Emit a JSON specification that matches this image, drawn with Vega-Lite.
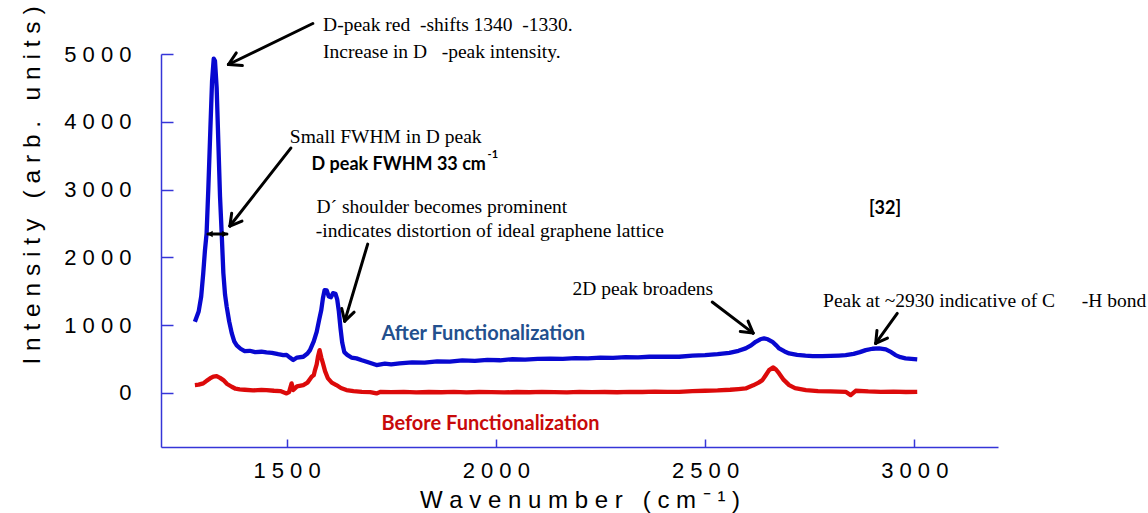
{
  "$schema": "https://vega.github.io/schema/vega-lite/v6.json",
  "width": 837,
  "height": 393,
  "autosize": {"type": "none"},
  "padding": {"left": 161, "top": 54, "right": 150, "bottom": 66},
  "background": "white",
  "config": {
    "view": {"stroke": null},
    "axis": {"grid": false, "domainColor": "#3535d8", "tickColor": "#3535d8", "domainWidth": 1.5, "tickWidth": 1.5, "labelColor": "black", "titleColor": "black", "labelFont": "Liberation Sans", "titleFont": "Liberation Sans", "titleFontWeight": "normal"}
  },
  "datasets": {
    "spectra": [
      {"sample":"After","x":1281,"y":1047},{"sample":"After","x":1290,"y":1200},{"sample":"After","x":1296,"y":1420},{"sample":"After","x":1301,"y":1767},{"sample":"After","x":1305,"y":2100},{"sample":"After","x":1309,"y":2357},{"sample":"After","x":1313,"y":3000},{"sample":"After","x":1318,"y":3900},{"sample":"After","x":1322,"y":4600},{"sample":"After","x":1326,"y":4930},{"sample":"After","x":1329,"y":4900},{"sample":"After","x":1333,"y":4500},{"sample":"After","x":1337,"y":3700},{"sample":"After","x":1341,"y":2900},{"sample":"After","x":1345,"y":2353},{"sample":"After","x":1349,"y":1767},{"sample":"After","x":1353,"y":1450},{"sample":"After","x":1357,"y":1270},{"sample":"After","x":1363,"y":1050},{"sample":"After","x":1369,"y":880},{"sample":"After","x":1375,"y":760},{"sample":"After","x":1381,"y":700},{"sample":"After","x":1390,"y":650},{"sample":"After","x":1400,"y":615},{"sample":"After","x":1412,"y":620},{"sample":"After","x":1425,"y":600},{"sample":"After","x":1440,"y":606},{"sample":"After","x":1452,"y":595},{"sample":"After","x":1465,"y":590},{"sample":"After","x":1480,"y":570},{"sample":"After","x":1492,"y":556},{"sample":"After","x":1500,"y":560},{"sample":"After","x":1508,"y":520},{"sample":"After","x":1516,"y":483},{"sample":"After","x":1525,"y":520},{"sample":"After","x":1540,"y":532},{"sample":"After","x":1550,"y":580},{"sample":"After","x":1556,"y":630},{"sample":"After","x":1565,"y":760},{"sample":"After","x":1572,"y":900},{"sample":"After","x":1578,"y":1080},{"sample":"After","x":1583,"y":1221},{"sample":"After","x":1587,"y":1400},{"sample":"After","x":1591,"y":1516},{"sample":"After","x":1596,"y":1510},{"sample":"After","x":1601,"y":1420},{"sample":"After","x":1606,"y":1410},{"sample":"After","x":1611,"y":1470},{"sample":"After","x":1617,"y":1460},{"sample":"After","x":1621,"y":1380},{"sample":"After","x":1625,"y":1200},{"sample":"After","x":1629,"y":950},{"sample":"After","x":1633,"y":740},{"sample":"After","x":1638,"y":600},{"sample":"After","x":1645,"y":560},{"sample":"After","x":1655,"y":520},{"sample":"After","x":1667,"y":508},{"sample":"After","x":1680,"y":480},{"sample":"After","x":1695,"y":450},{"sample":"After","x":1715,"y":409},{"sample":"After","x":1735,"y":430},{"sample":"After","x":1750,"y":420},{"sample":"After","x":1770,"y":434},{"sample":"After","x":1800,"y":450},{"sample":"After","x":1830,"y":445},{"sample":"After","x":1860,"y":465},{"sample":"After","x":1890,"y":460},{"sample":"After","x":1920,"y":478},{"sample":"After","x":1950,"y":470},{"sample":"After","x":1980,"y":485},{"sample":"After","x":2010,"y":480},{"sample":"After","x":2040,"y":495},{"sample":"After","x":2070,"y":490},{"sample":"After","x":2100,"y":500},{"sample":"After","x":2130,"y":505},{"sample":"After","x":2160,"y":500},{"sample":"After","x":2190,"y":512},{"sample":"After","x":2220,"y":508},{"sample":"After","x":2250,"y":520},{"sample":"After","x":2280,"y":515},{"sample":"After","x":2310,"y":525},{"sample":"After","x":2340,"y":522},{"sample":"After","x":2367,"y":532},{"sample":"After","x":2400,"y":535},{"sample":"After","x":2438,"y":532},{"sample":"After","x":2470,"y":550},{"sample":"After","x":2500,"y":555},{"sample":"After","x":2530,"y":570},{"sample":"After","x":2558,"y":590},{"sample":"After","x":2580,"y":620},{"sample":"After","x":2597,"y":655},{"sample":"After","x":2610,"y":700},{"sample":"After","x":2621,"y":753},{"sample":"After","x":2632,"y":790},{"sample":"After","x":2641,"y":803},{"sample":"After","x":2650,"y":790},{"sample":"After","x":2661,"y":753},{"sample":"After","x":2670,"y":700},{"sample":"After","x":2677,"y":655},{"sample":"After","x":2690,"y":610},{"sample":"After","x":2701,"y":581},{"sample":"After","x":2720,"y":560},{"sample":"After","x":2740,"y":548},{"sample":"After","x":2757,"y":542},{"sample":"After","x":2780,"y":540},{"sample":"After","x":2800,"y":545},{"sample":"After","x":2820,"y":550},{"sample":"After","x":2836,"y":556},{"sample":"After","x":2855,"y":575},{"sample":"After","x":2870,"y":600},{"sample":"After","x":2884,"y":630},{"sample":"After","x":2900,"y":650},{"sample":"After","x":2916,"y":655},{"sample":"After","x":2932,"y":640},{"sample":"After","x":2945,"y":600},{"sample":"After","x":2955,"y":556},{"sample":"After","x":2967,"y":525},{"sample":"After","x":2979,"y":508},{"sample":"After","x":2993,"y":500},{"sample":"After","x":3007,"y":493},
      {"sample":"Before","x":1281,"y":114},{"sample":"Before","x":1290,"y":120},{"sample":"Before","x":1301,"y":139},{"sample":"Before","x":1310,"y":180},{"sample":"Before","x":1317,"y":212},{"sample":"Before","x":1325,"y":240},{"sample":"Before","x":1333,"y":246},{"sample":"Before","x":1341,"y":220},{"sample":"Before","x":1349,"y":187},{"sample":"Before","x":1358,"y":130},{"sample":"Before","x":1369,"y":89},{"sample":"Before","x":1378,"y":60},{"sample":"Before","x":1388,"y":50},{"sample":"Before","x":1400,"y":45},{"sample":"Before","x":1420,"y":35},{"sample":"Before","x":1440,"y":42},{"sample":"Before","x":1452,"y":40},{"sample":"Before","x":1470,"y":30},{"sample":"Before","x":1485,"y":25},{"sample":"Before","x":1500,"y":-9},{"sample":"Before","x":1506,"y":10},{"sample":"Before","x":1512,"y":139},{"sample":"Before","x":1516,"y":40},{"sample":"Before","x":1525,"y":95},{"sample":"Before","x":1540,"y":114},{"sample":"Before","x":1550,"y":150},{"sample":"Before","x":1560,"y":236},{"sample":"Before","x":1565,"y":260},{"sample":"Before","x":1568,"y":335},{"sample":"Before","x":1572,"y":420},{"sample":"Before","x":1575,"y":532},{"sample":"Before","x":1579,"y":630},{"sample":"Before","x":1583,"y":520},{"sample":"Before","x":1587,"y":434},{"sample":"Before","x":1592,"y":320},{"sample":"Before","x":1599,"y":212},{"sample":"Before","x":1608,"y":150},{"sample":"Before","x":1619,"y":114},{"sample":"Before","x":1630,"y":70},{"sample":"Before","x":1643,"y":40},{"sample":"Before","x":1660,"y":25},{"sample":"Before","x":1680,"y":15},{"sample":"Before","x":1700,"y":10},{"sample":"Before","x":1715,"y":-9},{"sample":"Before","x":1725,"y":15},{"sample":"Before","x":1750,"y":10},{"sample":"Before","x":1780,"y":15},{"sample":"Before","x":1810,"y":5},{"sample":"Before","x":1840,"y":12},{"sample":"Before","x":1870,"y":8},{"sample":"Before","x":1900,"y":15},{"sample":"Before","x":1930,"y":5},{"sample":"Before","x":1960,"y":12},{"sample":"Before","x":1990,"y":10},{"sample":"Before","x":2020,"y":5},{"sample":"Before","x":2050,"y":12},{"sample":"Before","x":2080,"y":8},{"sample":"Before","x":2110,"y":15},{"sample":"Before","x":2140,"y":10},{"sample":"Before","x":2170,"y":5},{"sample":"Before","x":2200,"y":15},{"sample":"Before","x":2230,"y":10},{"sample":"Before","x":2260,"y":12},{"sample":"Before","x":2290,"y":8},{"sample":"Before","x":2320,"y":15},{"sample":"Before","x":2350,"y":12},{"sample":"Before","x":2380,"y":18},{"sample":"Before","x":2410,"y":15},{"sample":"Before","x":2438,"y":15},{"sample":"Before","x":2470,"y":25},{"sample":"Before","x":2500,"y":30},{"sample":"Before","x":2530,"y":35},{"sample":"Before","x":2560,"y":45},{"sample":"Before","x":2580,"y":55},{"sample":"Before","x":2597,"y":65},{"sample":"Before","x":2615,"y":110},{"sample":"Before","x":2628,"y":150},{"sample":"Before","x":2637,"y":187},{"sample":"Before","x":2645,"y":260},{"sample":"Before","x":2653,"y":335},{"sample":"Before","x":2663,"y":375},{"sample":"Before","x":2670,"y":340},{"sample":"Before","x":2677,"y":286},{"sample":"Before","x":2688,"y":190},{"sample":"Before","x":2701,"y":114},{"sample":"Before","x":2715,"y":70},{"sample":"Before","x":2741,"y":40},{"sample":"Before","x":2770,"y":25},{"sample":"Before","x":2800,"y":20},{"sample":"Before","x":2836,"y":15},{"sample":"Before","x":2848,"y":-34},{"sample":"Before","x":2860,"y":30},{"sample":"Before","x":2890,"y":20},{"sample":"Before","x":2920,"y":15},{"sample":"Before","x":2950,"y":18},{"sample":"Before","x":2980,"y":12},{"sample":"Before","x":3007,"y":15}
    ],
    "arrows": [
      {"x":1562.7,"y":5450,"x2":1361.1,"y2":4845},{"x":1361.1,"y":4845,"x2":1394.5,"y2":4830},{"x":1361.1,"y":4845,"x2":1379.9,"y2":5016},
      {"x":1510.2,"y":3612,"x2":1364.6,"y2":2461},{"x":1364.6,"y":2461,"x2":1393.5,"y2":2533},{"x":1364.6,"y":2461,"x2":1368.9,"y2":2651},
      {"x":1693.9,"y":2195,"x2":1639.0,"y2":1058},{"x":1639.0,"y":1058,"x2":1661.5,"y2":1190},{"x":1639.0,"y":1058,"x2":1631.9,"y2":1244},
      {"x":2517.1,"y":1339,"x2":2614.9,"y2":881},{"x":2614.9,"y":881,"x2":2602.8,"y2":1058},{"x":2614.9,"y":881,"x2":2584.2,"y2":905},
      {"x":2959.3,"y":1172,"x2":2907.7,"y2":729},{"x":2907.7,"y":729,"x2":2935.9,"y2":807},{"x":2907.7,"y":729,"x2":2910.8,"y2":920},
      {"x":1312.1,"y":2343,"x2":1357.5,"y2":2343}
    ],
    "tipLeft": [{"x":1316.9,"y":2343}],
    "tipRight": [{"x":1352.7,"y":2343}],
    "serifNotes": [
      {"label":"D-peak red\u00a0\u00a0-shifts 1340\u00a0\u00a0-1330.","x":1587.3,"y":5339},
      {"label":"Increase in D\u00a0\u00a0\u00a0-peak intensity.","x":1587.3,"y":4936},
      {"label":"Small FWHM in D peak","x":1507.8,"y":3686},
      {"label":"D´ shoulder becomes prominent","x":1571.5,"y":2648},
      {"label":"-indicates distortion of ideal graphene lattice","x":1569.8,"y":2298},
      {"label":"2D peak broadens","x":2183.1,"y":1442},
      {"label":"Peak at ~2930 indicative of C","x":2782.0,"y":1270},
      {"label":"-H bond","x":3400.0,"y":1270}
    ],
    "boldNotes": [
      {"label":"D peak FWHM 33 cm","x":1559.6,"y":3288},
      {"label":"[32]","x":2891.7,"y":2638}
    ],
    "supNotes": [{"label":"-1","x":1980.3,"y":3465}],
    "afterNote": [{"label":"After Functionalization","x":1726.6,"y":778}],
    "beforeNote": [{"label":"Before Functionalization","x":1726.6,"y":-551}]
  },
  "encoding": {
    "x": {"field": "x", "type": "quantitative", "scale": {"domain": [1200, 3200], "nice": false, "zero": false},
      "axis": {"values": [1500, 2000, 2500, 3000], "format": "d", "tickSize": -8, "labelPadding": 21, "labelFontSize": 22,
        "labelExpr": "join(split(datum.label, ''), ' ')",
        "title": "W a v e n u m b e r \u00a0 ( c m ⁻ ¹ )", "titleFontSize": 24, "titleY": 60, "titleBaseline": "alphabetic"}},
    "y": {"field": "y", "type": "quantitative", "scale": {"domain": [-800, 5000], "nice": false, "zero": false},
      "axis": {"values": [0, 1000, 2000, 3000, 4000, 5000], "format": "d", "tickSize": -12, "labelPadding": 42, "labelFontSize": 22,
        "labelExpr": "join(split(datum.label, ''), ' ')",
        "title": "I n t e n s i t y \u00a0 ( a r b . \u00a0 u n i t s )", "titleFontSize": 24.5, "titleAngle": 270, "titleX": -122, "titleY": 131, "titleAlign": "center", "titleBaseline": "alphabetic"}}
  },
  "layer": [
    {"data": {"name": "spectra"}, "mark": {"type": "line", "strokeWidth": 4.3, "strokeJoin": "round"},
      "encoding": {"color": {"field": "sample", "type": "nominal", "scale": {"domain": ["After", "Before"], "range": ["#0808d0", "#dc0a0a"]}, "legend": null}}},
    {"data": {"name": "arrows"}, "mark": {"type": "rule", "strokeWidth": 3, "color": "black", "strokeCap": "round"},
      "encoding": {"x2": {"field": "x2"}, "y2": {"field": "y2"}}},
    {"data": {"name": "tipLeft"}, "mark": {"type": "point", "shape": "triangle-left", "filled": true, "color": "black", "size": 40, "opacity": 1}},
    {"data": {"name": "tipRight"}, "mark": {"type": "point", "shape": "triangle-right", "filled": true, "color": "black", "size": 40, "opacity": 1}},
    {"data": {"name": "serifNotes"}, "mark": {"type": "text", "align": "left", "baseline": "alphabetic", "font": "Liberation Serif", "fontSize": 19.5, "color": "black"},
      "encoding": {"text": {"field": "label"}}},
    {"data": {"name": "boldNotes"}, "mark": {"type": "text", "align": "left", "baseline": "alphabetic", "font": "Lato", "fontWeight": "bold", "fontSize": 18, "color": "black"},
      "encoding": {"text": {"field": "label"}}},
    {"data": {"name": "supNotes"}, "mark": {"type": "text", "align": "left", "baseline": "alphabetic", "font": "Lato", "fontWeight": "bold", "fontSize": 11, "color": "black"},
      "encoding": {"text": {"field": "label"}}},
    {"data": {"name": "afterNote"}, "mark": {"type": "text", "align": "left", "baseline": "alphabetic", "font": "Lato", "fontWeight": "bold", "fontSize": 20, "color": "#23508e"},
      "encoding": {"text": {"field": "label"}}},
    {"data": {"name": "beforeNote"}, "mark": {"type": "text", "align": "left", "baseline": "alphabetic", "font": "Lato", "fontWeight": "bold", "fontSize": 20, "color": "#c80a0a"},
      "encoding": {"text": {"field": "label"}}}
  ]
}
